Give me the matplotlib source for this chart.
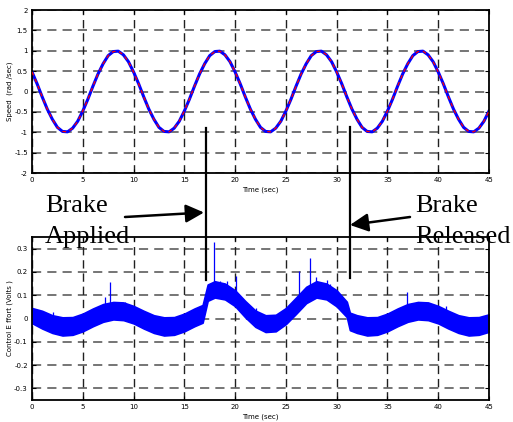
import numpy as np
import matplotlib
matplotlib.use("Agg")
import matplotlib.pyplot as plt
from matplotlib.patches import FancyArrowPatch, ArrowStyle
from matplotlib.lines import Line2D

# speed (rad/sec), sampled every 0.5 s from 0 to 45 s
speed_t = np.arange(0, 45.5, 0.5)
speed = [0.48, 0.19, -0.13, -0.43, -0.68, -0.88, -0.98, -0.99, -0.90, -0.73,
         -0.48, -0.19, 0.13, 0.43, 0.68, 0.88, 0.98, 0.99, 0.90, 0.73,
         0.48, 0.19, -0.13, -0.43, -0.68, -0.88, -0.98, -0.99, -0.90, -0.73,
         -0.48, -0.19, 0.13, 0.43, 0.68, 0.88, 0.98, 0.99, 0.90, 0.73,
         0.48, 0.19, -0.13, -0.43, -0.68, -0.88, -0.98, -0.99, -0.90, -0.73,
         -0.48, -0.19, 0.13, 0.43, 0.68, 0.88, 0.98, 0.99, 0.90, 0.73,
         0.48, 0.19, -0.13, -0.43, -0.68, -0.88, -0.98, -0.99, -0.90, -0.73,
         -0.48, -0.19, 0.13, 0.43, 0.68, 0.88, 0.98, 0.99, 0.90, 0.73,
         0.48, 0.19, -0.13, -0.43, -0.68, -0.88, -0.98, -0.99, -0.90, -0.73,
         -0.48]

# control effort (Volts): upper / lower edge of the noise band
ce_t = [0, 1, 2, 3, 4, 5, 6, 7, 8, 9, 10, 11, 12, 13, 14, 15, 16, 16.8,
        17.3, 18, 19, 20, 21, 22, 23, 24, 25, 26, 27, 28, 29, 30, 31, 31.3,
        32, 33, 34, 35, 36, 37, 38, 39, 40, 41, 42, 43, 44, 45]
ce_hi = [0.045, 0.033, 0.014, 0.005, 0.006, 0.021, 0.043, 0.062, 0.071, 0.069,
         0.054, 0.033, 0.014, 0.005, 0.006, 0.021, 0.043, 0.058,
         0.146, 0.160, 0.150, 0.121, 0.075, 0.034, 0.014, 0.016, 0.045, 0.090,
         0.136, 0.160, 0.150, 0.121, 0.072, 0.025,
         0.014, 0.005, 0.006, 0.021, 0.043, 0.062, 0.071, 0.069, 0.054, 0.033,
         0.014, 0.005, 0.006, 0.018]
ce_lo = [-0.020, -0.043, -0.062, -0.073, -0.070, -0.055, -0.033, -0.014, -0.004, -0.007,
         -0.021, -0.043, -0.062, -0.073, -0.070, -0.055, -0.033, -0.018,
         0.076, 0.090, 0.082, 0.053, 0.005, -0.036, -0.058, -0.055, -0.024, 0.020,
         0.066, 0.090, 0.082, 0.052, 0.006, -0.050,
         -0.062, -0.073, -0.070, -0.055, -0.033, -0.014, -0.004, -0.007, -0.021, -0.043,
         -0.062, -0.073, -0.070, -0.057]

# isolated spikes: time, base, peak
spike_t = [2.1, 7.2, 7.7, 9.2, 17.95, 18.5, 19.2, 20.05, 22.05, 26.3, 27.4, 28.0, 29.0, 29.3, 36.9, 40.8]
spike_base = [0.0, 0.03, 0.0, 0.03, 0.12, 0.12, 0.12, 0.09, 0.0, 0.05, 0.10, 0.12, 0.12, 0.11, 0.03, 0.01]
spike_top = [0.028, 0.092, 0.156, 0.071, 0.327, 0.160, 0.161, 0.181, 0.047, 0.206, 0.260, 0.180, 0.164, 0.150, 0.114, 0.053]

xticks = [0, 5, 10, 15, 20, 25, 30, 35, 40, 45]
yticks_speed = [-2, -1.5, -1, -0.5, 0, 0.5, 1, 1.5, 2]
yticks_ce = [-0.3, -0.2, -0.1, 0, 0.1, 0.2, 0.3]

W, H = 513, 422
fig = plt.figure(figsize=(W / 100, H / 100), dpi=100)

def style_axes(ax, yticks, ylabel):
    ax.set_xlim(0, 45)
    ax.set_xticks(xticks)
    ax.set_yticks(yticks)
    ax.set_yticklabels([("%g" % v) for v in yticks])
    ax.tick_params(direction="in", length=3, width=0.8, top=True, right=True,
                   labelsize=5, pad=3)
    for s in ax.spines.values():
        s.set_linewidth(1.3)
    for v in yticks:
        ax.axhline(v, color="#505050", lw=1.1, dashes=(6, 4), zorder=0.5)
    for v in xticks:
        ax.axvline(v, color="#202020", lw=1.0, dashes=(6, 3.5), zorder=0.5)
    ax.set_xlabel("Time (sec)", fontsize=5, labelpad=2.5)
    ax.set_ylabel(ylabel, fontsize=5, labelpad=1)

ax1 = fig.add_axes([32 / W, 1 - 173 / H, 457 / W, 163 / H])
ax1.set_ylim(-2, 2)
ax1.plot(speed_t, speed, color="#0000ff", lw=2.2, zorder=2)
ax1.plot(speed_t, speed, color="#ff0000", lw=0.9, dashes=(3, 3), zorder=3)
style_axes(ax1, yticks_speed, "Speed  (rad /sec)")

ax2 = fig.add_axes([32 / W, 1 - 400 / H, 457 / W, 163 / H])
ax2.set_ylim(-0.35, 0.35)
ax2.vlines(spike_t, spike_base, spike_top, color="#0000ff", lw=0.9, zorder=2)
ax2.fill_between(ce_t, ce_lo, ce_hi, color="#0000ff", lw=1.2, zorder=2)
style_axes(ax2, yticks_ce, "Control E ffort (Volts )")

# brake markers and labels
for x, y0, y1 in [(205.7, 128, 280), (350, 127, 278)]:
    fig.add_artist(Line2D([x / W, x / W], [1 - y0 / H, 1 - y1 / H],
                          transform=fig.transFigure, color="black", lw=1.6))

head = ArrowStyle("-|>", head_length=11, head_width=5.5)
for (x0, y0), (x1, y1) in [((125, 217), (204, 212.5)), ((410, 217), (350, 225))]:
    fig.add_artist(FancyArrowPatch((x0 / W, 1 - y0 / H), (x1 / W, 1 - y1 / H),
                                   transform=fig.transFigure, arrowstyle=head,
                                   mutation_scale=1, color="black", lw=1.8,
                                   shrinkA=0, shrinkB=0))

serif = dict(family="Liberation Serif", fontsize=19, va="baseline", zorder=10)
fig.text(45 / W, 1 - 212 / H, "Brake", **serif)
fig.text(45 / W, 1 - 243 / H, "Applied", **serif)
fig.text(415 / W, 1 - 212 / H, "Brake", **serif)
fig.text(415 / W, 1 - 243 / H, "Released", **serif)

fig.savefig("out.png", dpi=100)
